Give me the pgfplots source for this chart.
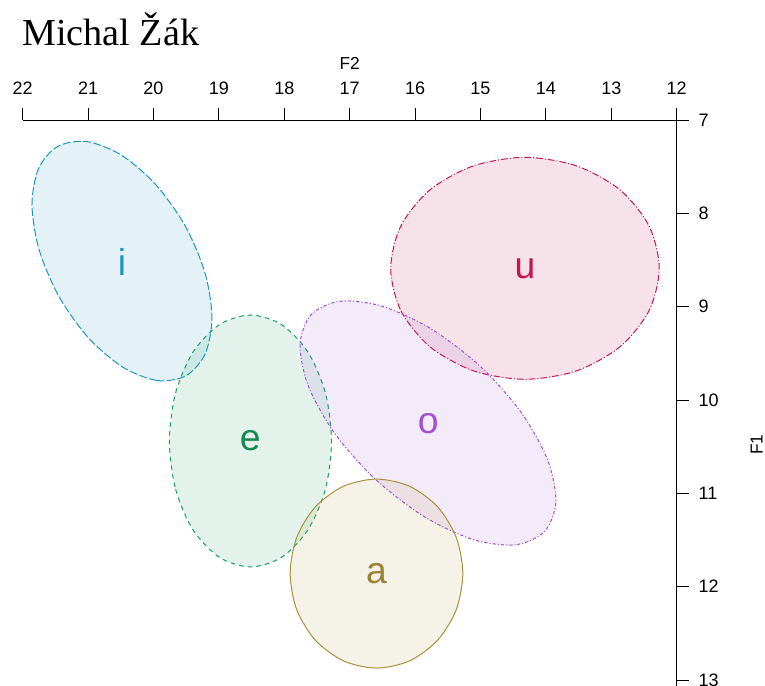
\documentclass[border=0pt]{standalone}
\usepackage{fontspec}
\setmainfont{Liberation Sans}
\newfontfamily\titlefont{Liberation Serif}
\usepackage{pgfplots}
\pgfplotsset{compat=1.18}
\definecolor{ci}{RGB}{30,150,190}
\definecolor{ce}{RGB}{25,160,100}
\definecolor{co}{RGB}{160,80,210}
\definecolor{ca}{RGB}{170,145,60}
\definecolor{cu}{RGB}{200,20,80}
\begin{document}
\begin{tikzpicture}[x=1pt,y=1pt]
\path[use as bounding box] (0,0) rectangle (573.75,-514.5);
\clip (0,0) rectangle (573.75,-514.5);
\node[anchor=base west, font=\titlefont\fontsize{28.6}{34}\selectfont, inner sep=0pt] at (16.5,-34.3) {Michal Žák};
\begin{axis}[
  at={(17.025pt,-90pt)}, anchor=north west,
  scale only axis, width=490.5pt, height=487.2pt,
  x dir=reverse, y dir=reverse,
  xmin=12, xmax=22, ymin=7, ymax=13.96,
  axis x line=top, axis y line=right,
  axis line style={-, line width=0.75pt, black, shorten <=-8pt},
  xtick={12,13,...,22}, ytick={7,8,...,13},
  tick align=outside, major tick length=9pt,
  tick style={line width=0.75pt, black},
  /pgf/number format/assume math mode=true,
  tick label style={font=\fontsize{13.5}{16}\selectfont},
  xticklabel shift=6.5pt, yticklabel shift=4pt,
  xlabel={F2}, ylabel={F1},
  every axis x label/.style={at={(axis description cs:0.5,1)}, anchor=center, yshift=42.75pt, font=\fontsize{13}{15}\selectfont},
  every axis y label/.style={at={(axis description cs:1,0.5)}, anchor=center, xshift=60pt, rotate=90, font=\fontsize{13}{15}\selectfont},
  clip=false,
]
% i
\addplot[draw=ci, fill=ci, fill opacity=0.12, line width=0.75pt, dash pattern=on 6pt off 1.8pt, smooth cycle] coordinates {
(19.502,9.740) (19.946,9.791) (20.471,9.647) (20.998,9.331) (21.447,8.889) (21.749,8.390) (21.858,7.909) (21.757,7.520)
(21.462,7.282) (21.018,7.231) (20.493,7.375) (19.966,7.692) (19.517,8.133) (19.215,8.632) (19.106,9.113) (19.207,9.502)};
% e
\addplot[draw=ce, fill=ce, fill opacity=0.12, line width=0.75pt, dash pattern=on 3.5pt off 3pt, smooth cycle] coordinates {
(19.756,10.439) (19.662,10.956) (19.393,11.394) (18.991,11.686) (18.517,11.789) (18.043,11.686) (17.641,11.394) (17.372,10.956)
(17.278,10.439) (17.372,9.922) (17.641,9.484) (18.043,9.192) (18.517,9.089) (18.991,9.192) (19.393,9.484) (19.662,9.922)};
% u
\addplot[draw=cu, fill=cu, fill opacity=0.12, line width=0.75pt, dash pattern=on 5pt off 1.5pt on 0.8pt off 1.5pt, smooth cycle] coordinates {
(16.373,8.589) (16.217,9.044) (15.772,9.430) (15.106,9.688) (14.320,9.778) (13.534,9.688) (12.868,9.430) (12.423,9.044)
(12.267,8.589) (12.423,8.134) (12.868,7.748) (13.534,7.491) (14.320,7.400) (15.106,7.491) (15.772,7.748) (16.217,8.134)};
% o
\addplot[draw=co, fill=co, fill opacity=0.12, line width=0.75pt, dash pattern=on 0.8pt off 1.5pt on 2.5pt off 1.5pt, smooth cycle] coordinates {
(14.019,11.408) (14.462,11.551) (15.109,11.496) (15.861,11.250) (16.605,10.851) (17.227,10.360) (17.632,9.852) (17.759,9.404)
(17.587,9.084) (17.144,8.941) (16.497,8.997) (15.745,9.242) (15.001,9.641) (14.379,10.132) (13.974,10.640) (13.847,11.088)};
% a
\addplot[draw=ca, fill=ca, fill opacity=0.12, line width=0.75pt, smooth cycle] coordinates {
(17.910,11.859) (17.810,12.247) (17.523,12.575) (17.095,12.795) (16.590,12.872) (16.085,12.795) (15.657,12.575) (15.371,12.247)
(15.270,11.859) (15.371,11.472) (15.657,11.143) (16.085,10.924) (16.590,10.847) (17.095,10.924) (17.523,11.143) (17.810,11.472)};
\node[text=ci, font=\fontsize{28}{32}\selectfont] at (axis cs:20.48,8.52) {i};
\node[text=ce!85!black, font=\fontsize{28}{32}\selectfont] at (axis cs:18.52,10.44) {e};
\node[text=co, font=\fontsize{28}{32}\selectfont] at (axis cs:15.80,10.25) {o};
\node[text=ca!90!black, font=\fontsize{28}{32}\selectfont] at (axis cs:16.59,11.86) {a};
\node[text=cu, font=\fontsize{28}{32}\selectfont] at (axis cs:14.32,8.59) {u};
\end{axis}
\end{tikzpicture}
\end{document}
